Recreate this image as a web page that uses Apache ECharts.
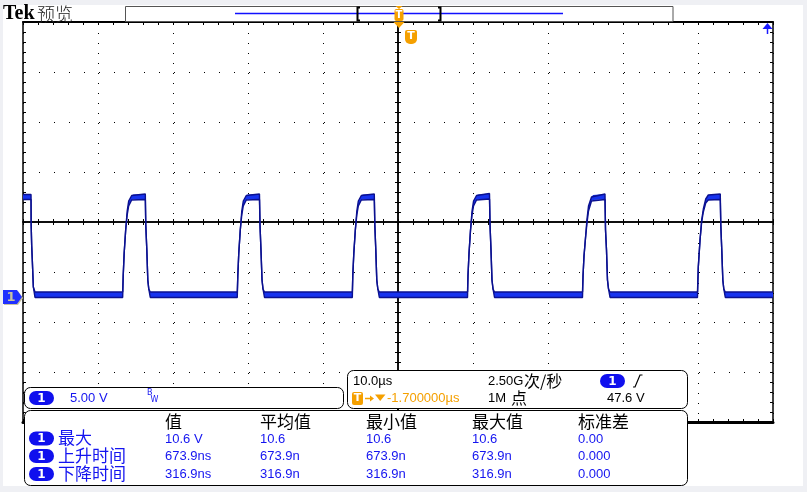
<!DOCTYPE html>
<html><head><meta charset="utf-8">
<script src="https://cdn.jsdelivr.net/npm/echarts@6.0.0/dist/echarts.min.js"></script>
<style>
html,body{margin:0;padding:0;background:#eff0f4;width:807px;height:492px;overflow:hidden}
#bg{position:absolute;left:3px;top:5px;width:800px;height:481px;background:#fff}
#c{position:absolute;left:0;top:0;width:807px;height:492px}
</style></head><body><div id="bg"></div><div id="c"></div>
<script>
const timeUs = [
  -50.00, -48.93, -48.91, -48.84, -48.76, -48.62, -48.40,
  -36.71, -36.64, -36.51, -36.31, -36.11, -35.91, -35.51, -35.31, -33.69, -33.63, -33.49, -33.36, -33.23, -33.03,
  -21.43, -21.36, -21.23, -21.03, -20.83, -20.63, -20.23, -20.03, -18.47, -18.40, -18.27, -18.13, -18.00, -17.80,
  -6.09, -6.03, -5.89, -5.69, -5.49, -5.29, -4.89, -4.69, -3.16, -3.09, -2.96, -2.83, -2.69, -2.49,
  9.27, 9.33, 9.47, 9.67, 9.87, 10.07, 10.47, 10.67, 12.20, 12.27, 12.40, 12.53, 12.67, 12.87,
  24.60, 24.67, 24.80, 25.00, 25.20, 25.40, 25.80, 26.00, 27.60, 27.67, 27.80, 27.93, 28.07, 28.27,
  39.93, 40.04, 40.27, 40.49, 40.71, 41.03, 41.37, 42.97, 43.04, 43.17, 43.31, 43.44, 43.64, 50.00
];
const upperV = [
  10.35, 10.35, 7.3, 5.2, 3.8, 1.1, 0.60,
  0.60, 2.2, 4.5, 6.8, 8.7, 9.7, 10.25, 10.35, 10.40, 7.3, 4.8, 1.8, 0.9, 0.60,
  0.60, 2.2, 4.5, 6.8, 8.7, 9.7, 10.25, 10.35, 10.40, 7.3, 4.8, 1.8, 0.9, 0.60,
  0.60, 2.2, 4.5, 6.8, 8.7, 9.7, 10.25, 10.35, 10.40, 7.3, 4.8, 1.8, 0.9, 0.60,
  0.60, 2.2, 4.5, 6.8, 8.7, 9.7, 10.25, 10.35, 10.45, 7.3, 4.8, 1.8, 0.9, 0.60,
  0.60, 2.2, 4.2, 6.0, 7.9, 9.2, 10.1, 10.30, 10.40, 6.8, 4.8, 1.8, 0.9, 0.60,
  0.60, 3.1, 5.8, 7.8, 8.9, 9.9, 10.30, 10.40, 7.3, 4.8, 1.8, 0.9, 0.60, 0.60
];
const lowerV = [
  9.85, 9.85, 7.3, 5.2, 3.8, 1.1, 0.05,
  0.05, 2.2, 4.5, 6.8, 8.3, 9.2, 9.8, 9.85, 9.85, 7.3, 4.8, 1.8, 0.9, 0.05,
  0.05, 2.2, 4.5, 6.8, 8.3, 9.2, 9.8, 9.85, 9.85, 7.3, 4.8, 1.8, 0.9, 0.05,
  0.05, 2.2, 4.5, 6.8, 8.3, 9.2, 9.8, 9.85, 9.85, 7.3, 4.8, 1.8, 0.9, 0.05,
  0.05, 2.2, 4.5, 6.8, 8.3, 9.2, 9.8, 9.85, 9.90, 7.3, 4.8, 1.8, 0.9, 0.05,
  0.05, 2.2, 4.2, 6.0, 7.5, 8.7, 9.7, 9.8, 9.85, 6.8, 4.8, 1.8, 0.9, 0.05,
  0.05, 3.1, 5.8, 7.6, 8.6, 9.5, 9.8, 9.85, 7.3, 4.8, 1.8, 0.9, 0.05, 0.05
];
// Screen scale
const timeRange = [-50, 50];   // 10 div x 10.0 µs
const voltRange = [-12.4, 27.6]; // 8 div x 5 V, ground 1.52 div below centre
// Readouts
const ch1Scale = '5.00 V';
const timebase = '10.0µs';
const sampleRate = '2.50G';
const recordLen = '1M';
const trigLevel = '47.6 V';
const trigPos = '-1.700000µs';
const measHeaders = ['值', '平均值', '最小值', '最大值', '标准差'];
const measNames = ['最大', '上升时间', '下降时间'];
const measValues = [
  ['10.6 V', '10.6', '10.6', '10.6', '0.00'],
  ['673.9ns', '673.9n', '673.9n', '673.9n', '0.000'],
  ['316.9ns', '316.9n', '316.9n', '316.9n', '0.000']
];

const MONO = '13px "Liberation Sans"';
const CJK = '"Noto Sans CJK SC"';
const BLUE = '#1414f0';
const ORANGE = '#f5a000';
const G = [];
function txt(x, y, s, fill, font, align) {
  G.push({type: 'text', z: 62, silent: true, style: {x: x, y: y, text: s, fill: fill, font: font, align: align || 'left', verticalAlign: 'middle'}});
}
function pill(x, y) {
  G.push({type: 'rect', z: 60, silent: true, shape: {x: x, y: y - 7, width: 25, height: 14, r: 7}, style: {fill: '#1010ee'}});
  txt(x + 12.5, y + 0.5, '1', '#fff', 'bold 12px "DejaVu Sans"', 'center');
}
function panel(x, y, w, h) {
  G.push({type: 'rect', z: 55, silent: true, shape: {x: x, y: y, width: w, height: h, r: 6}, style: {fill: '#fff', stroke: '#000', lineWidth: 1}});
}
function poly(points, fill, z) {
  G.push({type: 'polygon', z: z || 61, silent: true, shape: {points: points}, style: {fill: fill}});
}
function line(points, stroke, w, z) {
  G.push({type: 'polyline', z: z || 61, silent: true, shape: {points: points}, style: {stroke: stroke, lineWidth: w, fill: null}});
}

// Header
txt(3, 14, 'Tek', '#000', 'bold 20px "Liberation Serif"');
txt(37, 14, '预览', '#222', '300 18px ' + CJK);
G.push({type: 'rect', z: 56, silent: true, shape: {x: 125.5, y: 6.5, width: 547.5, height: 15}, style: {fill: '#fff', stroke: '#555', lineWidth: 1}});
line([[235, 13.5], [563, 13.5]], '#1010ff', 1.6, 57);
line([[360, 7.5], [357.5, 7.5], [357.5, 20.5], [360, 20.5]], '#000', 2, 58);
line([[438, 7.5], [440.5, 7.5], [440.5, 20.5], [438, 20.5]], '#000', 2, 58);
// trigger position marker
poly([[395.5, 6], [402.5, 6], [399, 9]], ORANGE, 58);
G.push({type: 'rect', z: 58, silent: true, shape: {x: 394.5, y: 9, width: 9, height: 12, r: 2}, style: {fill: ORANGE}});
txt(399, 15.5, 'T', '#fff', 'bold 10px "DejaVu Sans"', 'center');
poly([[393.5, 22], [404.5, 22], [399, 28]], ORANGE, 58);
G.push({type: 'rect', z: 58, silent: true, shape: {x: 405, y: 30, width: 12, height: 14, r: [2, 2, 5, 5]}, style: {fill: ORANGE}});
txt(411, 36.5, 'T', '#fff', 'bold 11px "DejaVu Sans"', 'center');
// trigger level (off screen, above)
poly([[762.5, 29], [767.5, 23], [772.5, 29]], '#1a1aff', 58);
line([[767.5, 28], [767.5, 34]], '#1a1aff', 1.5, 58);
// CH1 ground marker
poly([[4, 291], [18, 291], [23, 298], [18, 305], [4, 305]], '#c8c4a0', 58);
poly([[3, 290], [17, 290], [22, 297], [17, 304], [3, 304]], '#2030ff', 59);
txt(11, 297.5, '1', '#c8c4a0', 'bold 13px "DejaVu Sans"', 'center');

// Panel A: channel
panel(24.5, 387.5, 319, 21);
pill(29, 398);
txt(70, 398.5, ch1Scale, BLUE, MONO);
txt(147, 393, 'B', BLUE, '8px "DejaVu Sans"');
txt(150.5, 399.5, 'W', BLUE, '8px "DejaVu Sans"');

// Panel B: horizontal / trigger
panel(347.5, 370.5, 340, 38);
txt(353, 381.5, timebase, '#000', MONO);
txt(488, 381.5, sampleRate, '#000', MONO);
txt(524, 380.5, '次/秒', '#000', '16px ' + CJK);
pill(600, 381);
line([[633, 387], [635, 387], [640, 375], [642.5, 375]], '#000', 1.2);
G.push({type: 'rect', z: 60, silent: true, shape: {x: 352, y: 392, width: 11, height: 13, r: 2}, style: {fill: ORANGE}});
txt(357.5, 398.5, 'T', '#fff', 'bold 11px "DejaVu Sans"', 'center');
line([[365, 398.5], [371, 398.5]], ORANGE, 1.5);
poly([[370, 395.5], [374, 398.5], [370, 401.5]], ORANGE);
poly([[375, 394.5], [385.5, 394.5], [380.2, 401]], ORANGE);
txt(387, 398.5, trigPos, ORANGE, MONO);
txt(488, 398.5, recordLen, '#000', MONO);
txt(511, 397.5, '点', '#000', '16px ' + CJK);
txt(607, 398.5, trigLevel, '#000', MONO);

// Panel C: measurements
panel(24.5, 410.5, 663, 75);
const colX = [165, 260, 366, 472, 578];
const rowY = [438.5, 456, 474];
measHeaders.forEach(function (h, i) { txt(colX[i], 421.5, h, '#000', '17px ' + CJK); });
measNames.forEach(function (n, r) {
  pill(29, rowY[r]);
  txt(58, rowY[r] - 0.5, n, BLUE, '17px ' + CJK);
  measValues[r].forEach(function (v, c) { txt(colX[c], rowY[r] + 0.5, v, BLUE, MONO); });
});

const tickBase = {show: true, inside: true, length: 3, lineStyle: {color: '#000', width: 1}};
const minorBase = {show: true, splitNumber: 5, length: 3, lineStyle: {color: '#000', width: 1}};
function xAx(extra) {
  return Object.assign({type: 'value', min: timeRange[0], max: timeRange[1], interval: 10,
    axisLabel: {show: false}, splitLine: {show: false}}, extra);
}
function yAx(extra) {
  return Object.assign({type: 'value', min: -4, max: 4, interval: 1,
    axisLabel: {show: false}, splitLine: {show: false}}, extra);
}

const chart = echarts.init(document.getElementById('c'), null, {renderer: 'canvas'});
chart.setOption({
  animation: false,
  backgroundColor: 'transparent',
  grid: {left: 23, top: 22, width: 750, height: 400, containLabel: false, show: false},
  xAxis: [
    xAx({position: 'bottom', axisLine: {show: true, onZero: false, lineStyle: {color: '#000', width: 3}},
      axisTick: tickBase, minorTick: minorBase,
      splitLine: {show: true, lineStyle: {color: '#000', width: 1, type: [1, 9], dashOffset: 9}}}),
    xAx({position: 'top', axisLine: {show: true, onZero: false, lineStyle: {color: '#000', width: 2}},
      axisTick: tickBase, minorTick: minorBase}),
    xAx({position: 'bottom', axisLine: {show: true, onZero: true, onZeroAxisIndex: 0, lineStyle: {color: '#000', width: 1.5}},
      axisTick: tickBase, minorTick: minorBase}),
    xAx({position: 'bottom', axisLine: {show: true, onZero: true, onZeroAxisIndex: 0, lineStyle: {color: '#000', width: 1.5}},
      axisTick: Object.assign({}, tickBase, {inside: false}), minorTick: minorBase})
  ],
  yAxis: [
    yAx({position: 'left', axisLine: {show: true, onZero: false, lineStyle: {color: '#000', width: 1.5}},
      axisTick: tickBase, minorTick: minorBase,
      splitLine: {show: true, lineStyle: {color: '#000', width: 1, type: [1, 14], dashOffset: 14}}}),
    yAx({position: 'right', axisLine: {show: true, onZero: false, lineStyle: {color: '#000', width: 1.5}},
      axisTick: tickBase, minorTick: minorBase}),
    yAx({position: 'left', axisLine: {show: true, onZero: true, onZeroAxisIndex: 0, lineStyle: {color: '#000', width: 1.5}},
      axisTick: tickBase, minorTick: minorBase}),
    yAx({position: 'left', axisLine: {show: true, onZero: true, onZeroAxisIndex: 0, lineStyle: {color: '#000', width: 1.5}},
      axisTick: Object.assign({}, tickBase, {inside: false}), minorTick: minorBase}),
    {type: 'value', min: voltRange[0], max: voltRange[1], show: false}
  ],
  series: [
    {
      type: 'custom', xAxisIndex: 0, yAxisIndex: 4, z: 3, silent: true, clip: true,
      data: [[0, 0]],
      renderItem: function (params, api) {
        const pts = [];
        for (let i = 0; i < timeUs.length; i++) pts.push(api.coord([timeUs[i], upperV[i]]));
        for (let i = timeUs.length - 1; i >= 0; i--) pts.push(api.coord([timeUs[i], lowerV[i]]));
        return {type: 'polygon', shape: {points: pts}, style: {fill: '#1733ee'}};
      }
    },
    {type: 'line', xAxisIndex: 0, yAxisIndex: 4, z: 4, showSymbol: false, silent: true,
      data: timeUs.map(function (t, i) { return [t, upperV[i]]; }),
      lineStyle: {color: '#0b1190', width: 1.4}},
    {type: 'line', xAxisIndex: 0, yAxisIndex: 4, z: 4, showSymbol: false, silent: true,
      data: timeUs.map(function (t, i) { return [t, lowerV[i]]; }),
      lineStyle: {color: '#0b1190', width: 1.4}}
  ],
  graphic: {elements: G}
});
</script></body></html>
